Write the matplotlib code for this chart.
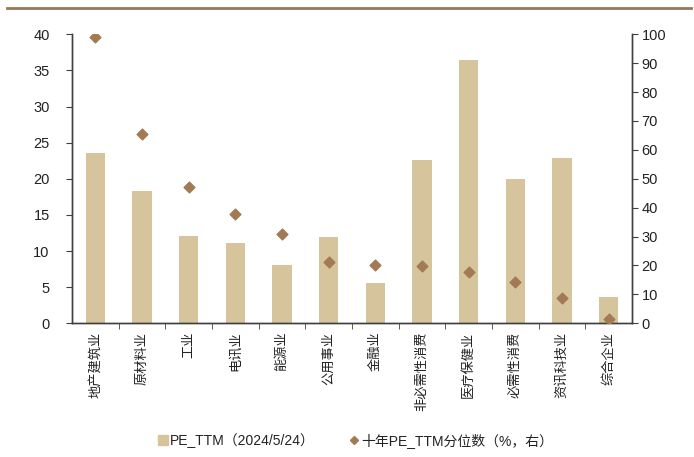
import numpy as np
import matplotlib.pyplot as plt
from matplotlib.lines import Line2D

plt.rcParams['font.family'] = ['Liberation Sans', 'Noto Sans CJK SC', 'DejaVu Sans']

# 行业数据
sectors = ['地产建筑业', '原材料业', '工业', '电讯业', '能源业', '公用事业', '金融业',
           '非必需性消费', '医疗保健业', '必需性消费', '资讯科技业', '综合企业']
pe_ttm = [23.6, 18.3, 12.1, 11.1, 8.0, 12.0, 5.6, 22.6, 36.5, 20.0, 22.9, 3.6]
pe_pct = [99.2, 65.5, 47.2, 37.8, 30.9, 21.3, 20.2, 19.9, 17.6, 14.4, 8.9, 1.6]

bar_color = '#d5c49c'
dot_color = '#a27b55'
axis_color = '#404040'

fig = plt.figure(figsize=(6.94, 4.57), dpi=100)
ax = fig.add_axes([0.1037, 0.2926, 0.807, 0.6324])
ax2 = ax.twinx()

x = np.arange(len(sectors))
ax.bar(x, pe_ttm, width=0.41, color=bar_color, zorder=2)
ax2.scatter(x, pe_pct, marker='D', s=30, color=dot_color, zorder=3)

ax.set_xlim(-0.5, len(sectors) - 0.5)
ax.set_ylim(0, 40)
ax.set_yticks(np.arange(0, 41, 5))
ax2.set_ylim(0, 100)
ax2.set_yticks(np.arange(0, 101, 10))

# 分类标签竖排，刻度线放在类别之间
ax.set_xticks(x)
ax.set_xticklabels(sectors, rotation=90, fontsize=9.5, color='#222222',
                   family=['Noto Sans CJK SC'])
ax.tick_params(axis='x', which='major', length=0, pad=6)
ax.set_xticks(np.arange(0.5, len(sectors) - 0.5, 1), minor=True)
ax.tick_params(axis='x', which='minor', length=4, direction='out', color=axis_color)

ax.tick_params(axis='y', length=4, direction='out', color=axis_color, labelsize=10.5,
               labelcolor='#222222', pad=12)
ax2.tick_params(axis='y', length=4, direction='out', color=axis_color, labelsize=10.5,
                labelcolor='#222222', pad=3)

for a in (ax, ax2):
    a.spines['top'].set_visible(False)
    for side in ('left', 'right', 'bottom'):
        a.spines[side].set_color(axis_color)
        a.spines[side].set_linewidth(1)
ax.set_zorder(ax2.get_zorder() - 1)
ax.patch.set_visible(False)

# 顶部装饰线
fig.add_artist(Line2D([0.01, 0.995], [0.982, 0.982], color='#9c7553', linewidth=2,
                      transform=fig.transFigure))

handles = [
    Line2D([], [], marker='s', linestyle='none', color=bar_color, markersize=7),
    Line2D([], [], marker='D', linestyle='none', color=dot_color, markersize=4),
]
labels = ['PE_TTM（2024/5/24）', '十年PE_TTM分位数（%，右）']
fig.legend(handles, labels, loc='center', bbox_to_anchor=(0.512, 0.037), ncol=2,
           frameon=False, fontsize=10, handletextpad=0.15, columnspacing=2.4,
           handlelength=0.8, labelcolor='#222222')

fig.savefig('out.png', dpi=100)
